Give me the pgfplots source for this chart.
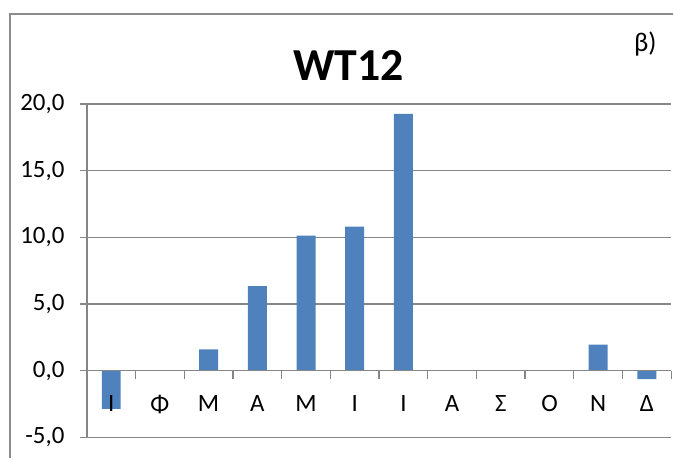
\documentclass[border=0pt]{standalone}
\usepackage{fontspec}
\setmainfont{Carlito}
\usepackage{pgfplots}
\pgfplotsset{compat=1.18}
\definecolor{barblue}{HTML}{4F81BD}
\definecolor{gridgray}{HTML}{868686}
\definecolor{framegray}{HTML}{8C8C8C}
\begin{document}
\begin{tikzpicture}[x=1bp,y=1bp]
\draw[framegray, line width=1.6bp] (10,0) -- (10,445) -- (674,445);
\begin{axis}[
  set layers,
  at={(87bp,21bp)}, anchor=south west,
  scale only axis, width=585bp, height=334bp,
  xmin=0.5, xmax=12.5, ymin=-5, ymax=20,
  axis y line=left, axis x line=middle,
  axis line style={-, draw=gridgray, line width=1.3bp},
  hide obscured y ticks=false, hide obscured x ticks=false,
  ytick={-5,0,5,10,15,20},
  ymajorgrids, grid style={draw=gridgray, line width=1.3bp},
  xtick={1,...,12},
  xticklabels={Ι,Φ,Μ,Α,Μ,Ι,Ι,Α,Σ,Ο,Ν,Δ},
  minor xtick={0.5,1.5,...,12.5},
  major x tick style={draw=none},
  tick style={draw=gridgray, line width=1.3bp},
  tick align=outside,
  major tick length=7bp, minor tick length=8bp,
  ticklabel style={font=\fontsize{25}{28}\selectfont, text=black},
  xticklabel style={yshift=-14bp},
  yticklabel style={xshift=-12bp},
  /pgf/number format/.cd, fixed, fixed zerofill, precision=1, use comma, assume math mode=true,
]
\addplot[ybar, bar width=19bp, fill=barblue, draw=none, bar shift=0pt, on layer=axis ticks]
  coordinates {(1,-2.85) (2,0) (3,1.6) (4,6.35) (5,10.13) (6,10.8) (7,19.25) (8,0) (9,0) (10,0) (11,1.95) (12,-0.62)};
\end{axis}
\node[font=\bfseries\fontsize{46}{50}\selectfont] at (349,393) {WT12};
\node[font=\fontsize{27}{30}\selectfont] at (646,415) {β)};
\path[use as bounding box] (0,0) rectangle (674,459);
\end{tikzpicture}
\end{document}
